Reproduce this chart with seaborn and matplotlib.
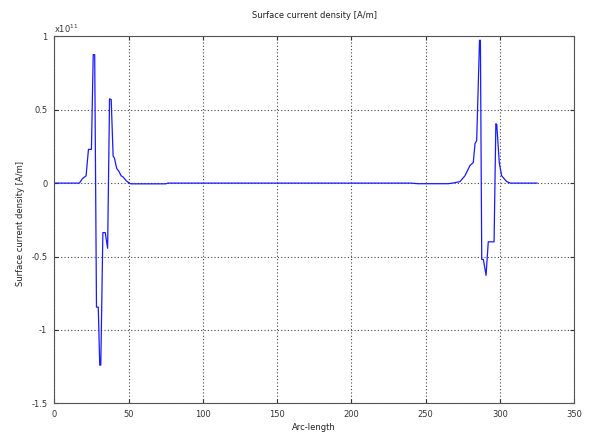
"""Surface current density along the boundary arc-length."""

import matplotlib

matplotlib.use("Agg")

import matplotlib.pyplot as plt
import pandas as pd
import seaborn as sns

# values, current density in units of 1e11 A/m
arc_length = [
    0.0, 16.9, 18.9, 21.4, 23.0, 25.0, 26.2, 27.2, 28.4, 29.6,
    30.6, 31.3, 32.7, 34.3, 35.9, 37.2, 38.3, 39.6, 40.5, 42.0,
    43.5, 45.0, 46.5, 48.5, 50.5, 51.5, 75.0, 76.5, 240.0, 245.0,
    265.0, 268.0, 273.0, 276.4, 279.8, 282.0, 283.2, 284.3, 286.2, 286.8,
    287.7, 288.8, 290.6, 292.1, 296.0, 297.2, 297.8, 299.5, 301.1, 304.5,
    307.0, 325.0,
]
current_density = [
    0.0, 0.0, 0.03, 0.05, 0.23, 0.23, 0.875, 0.875, -0.845, -0.845,
    -1.24, -1.24, -0.337, -0.337, -0.444, 0.574, 0.57, 0.184, 0.17, 0.10,
    0.08, 0.05, 0.04, 0.015, 0.0, -0.005, -0.005, 0.0, 0.0, -0.004,
    -0.004, 0.0, 0.01, 0.05, 0.12, 0.14, 0.27, 0.29, 0.973, 0.973,
    -0.52, -0.52, -0.628, -0.40, -0.40, 0.404, 0.40, 0.14, 0.05, 0.01,
    0.0, 0.0,
]
x_ticks = [0, 50, 100, 150, 200, 250, 300, 350]
y_ticks = [-1.5, -1, -0.5, 0, 0.5, 1]
y_tick_labels = ["-1.5", "-1", "-0.5", "0", "0.5", "1"]

sns.set_style("white")
plt.rcParams["font.family"] = ["DejaVu Sans"]

data = pd.DataFrame({"arc": arc_length, "density": current_density})

fig = plt.figure(figsize=(5.92, 4.36), dpi=100)
ax = fig.add_axes([0.0917, 0.075, 0.8784, 0.8417])

sns.lineplot(
    data=data, x="arc", y="density", estimator=None, sort=False,
    color="#1a1aff", linewidth=0.9, ax=ax,
)

ax.set_xlim(0, 350)
ax.set_ylim(-1.5, 1)
ax.set_xticks(x_ticks)
ax.set_yticks(y_ticks)
ax.set_yticklabels(y_tick_labels)

ax.grid(True, color="#444444", linestyle=(0, (1, 2)), linewidth=0.8)
ax.tick_params(
    direction="in", length=3, width=0.8, labelsize=6, colors="#333333",
    top=True, right=True, bottom=True, left=True, pad=5,
)
for spine in ax.spines.values():
    spine.set_color("#555555")
    spine.set_linewidth(0.8)

ax.set_title("Surface current density [A/m]", fontsize=6, color="#222222", pad=13)
ax.set_xlabel("Arc-length", fontsize=6, color="#222222", labelpad=3)
ax.set_ylabel("Surface current density [A/m]", fontsize=6, color="#222222")
ax.yaxis.set_label_coords(-0.056, 0.49)
ax.text(0, 1.004, r"x10$^{11}$", transform=ax.transAxes, ha="left", va="bottom",
        fontsize=6, color="#333333")

fig.savefig("out.png", dpi=100)
plt.close(fig)
